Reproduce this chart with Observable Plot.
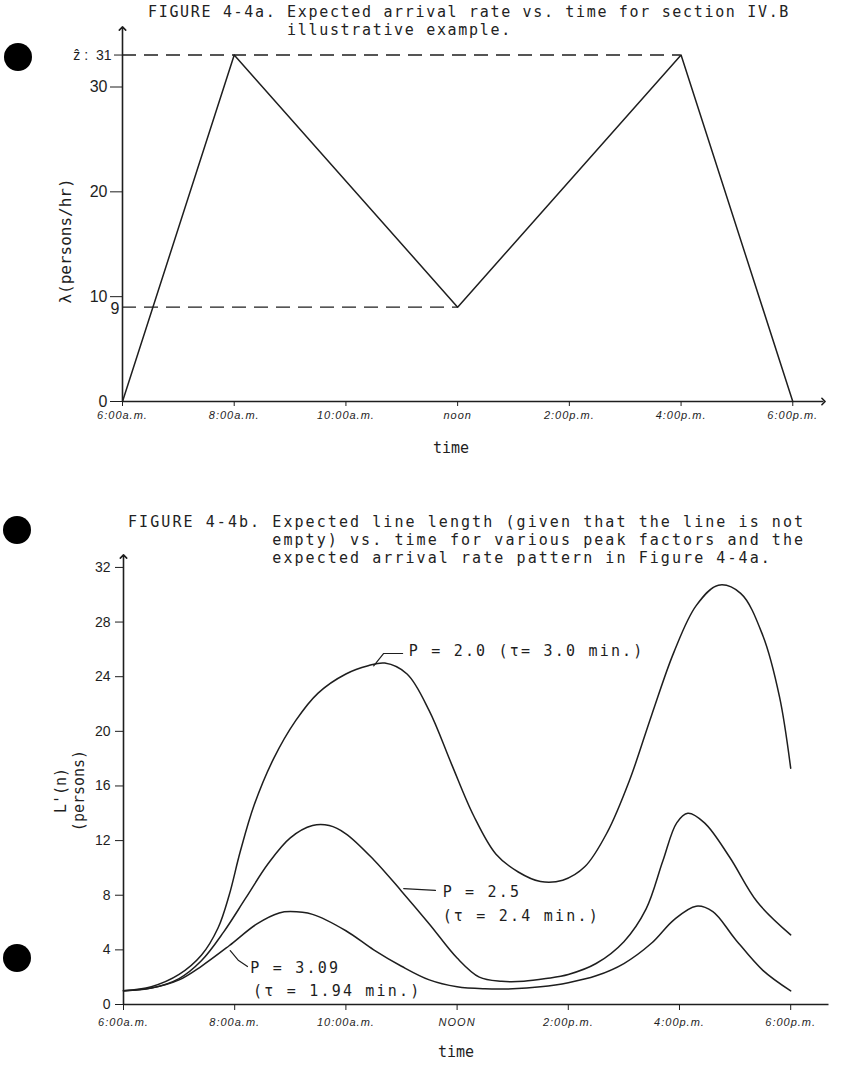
<!DOCTYPE html>
<html><head><meta charset="utf-8">
<script src="https://cdn.jsdelivr.net/npm/d3@7"></script>
<script src="https://cdn.jsdelivr.net/npm/@observablehq/plot@0.6"></script>
<style>
body{margin:0;background:#fff;width:845px;height:1070px;position:relative;overflow:hidden;}
.title{position:absolute;font-family:"DejaVu Sans Mono",monospace;font-size:15px;white-space:pre;color:#222;line-height:18px;}
.hole{position:absolute;width:28px;height:28px;border-radius:50%;background:#000;}
.chart{position:absolute;left:0;}
g[aria-label="x-axis tick label"] text{letter-spacing:1px;}
</style></head><body>
<div class="hole" style="left:4px;top:43px"></div>
<div class="hole" style="left:3px;top:516px"></div>
<div class="hole" style="left:3px;top:944px"></div>
<div class="title" style="left:148px;top:3px;letter-spacing:1.67px">FIGURE 4-4a. Expected arrival rate vs. time for section IV.B
             illustrative example.</div>
<div class="title" style="left:128px;top:513px;letter-spacing:2.07px">FIGURE 4-4b. Expected line length (given that the line is not
             empty) vs. time for various peak factors and the
             expected arrival rate pattern in Figure 4-4a.</div>
<div id="c1" class="chart" style="top:20px"></div>
<div id="c2" class="chart" style="top:545px"></div>
<script>
// ---------- data ----------
const timeTicks = [6, 8, 10, 12, 14, 16, 18];
const topTickLabels = ["6:00a.m.", "8:00a.m.", "10:00a.m.", "noon", "2:00p.m.", "4:00p.m.", "6:00p.m."];
const bottomTickLabels = ["6:00a.m.", "8:00a.m.", "10:00a.m.", "NOON", "2:00p.m.", "4:00p.m.", "6:00p.m."];

// Figure 4-4a: arrival rate (persons/hr)
const arrivalTime = [6, 8, 12, 16, 18];
const arrivalRate = [0, 31, 9, 31, 0];
const refLevels = [31, 9];
const refEnds = [16, 12];
const topYTicks = [0, 10, 20, 30];

// Figure 4-4b: expected line length curves
const p20Time = [6, 6.5, 7, 7.4, 7.7, 7.9, 8.1, 8.35, 8.7, 9.1, 9.5, 10, 10.4, 10.7, 11.1, 11.5, 11.9, 12.3, 12.7, 13.1, 13.5, 13.9, 14.3, 14.7, 15.1, 15.5, 15.9, 16.3, 16.7, 17.1, 17.5, 17.8, 18];
const p20Len  = [1.0, 1.3, 2.2, 3.6, 5.6, 8.0, 11.2, 14.6, 18.0, 20.8, 22.8, 24.2, 24.8, 25.0, 24.2, 21.5, 17.6, 13.8, 11.0, 9.7, 9.0, 9.1, 10.1, 12.6, 16.4, 21.2, 25.8, 29.2, 30.7, 30.1, 27.0, 22.5, 17.3];
const p25Time = [6, 6.5, 7, 7.4, 7.8, 8.2, 8.6, 9, 9.4, 9.7, 10, 10.5, 11, 11.5, 12, 12.4, 12.8, 13.2, 13.6, 14, 14.5, 15, 15.4, 15.7, 15.95, 16.15, 16.45, 16.9, 17.4, 18];
const p25Len  = [1.0, 1.2, 1.9, 3.2, 5.3, 7.8, 10.3, 12.2, 13.1, 13.1, 12.5, 10.6, 8.3, 5.9, 3.4, 2.0, 1.7, 1.7, 1.9, 2.2, 3.0, 4.6, 7.0, 10.5, 13.3, 14.0, 13.3, 10.8, 7.5, 5.1];
const p309Time = [6, 6.5, 7, 7.4, 7.9, 8.4, 8.8, 9, 9.4, 10, 10.5, 11, 11.5, 12, 12.5, 13, 13.5, 14, 14.5, 15, 15.5, 15.9, 16.3, 16.6, 17, 17.5, 18];
const p309Len  = [1.0, 1.2, 1.8, 2.8, 4.3, 5.9, 6.7, 6.8, 6.6, 5.4, 4.0, 2.8, 1.8, 1.3, 1.15, 1.15, 1.3, 1.6, 2.1, 3.0, 4.5, 6.2, 7.2, 6.8, 4.8, 2.5, 1.0];
const bottomYTicks = [0, 4, 8, 12, 16, 20, 24, 28, 32];

// curve labels (anchor in data coordinates) and leader lines
const labelText = ["P = 2.0 (τ= 3.0 min.)", "P = 2.5", "(τ = 2.4 min.)", "P = 3.09", "(τ = 1.94 min.)"];
const labelTime = [11.13, 11.74, 11.74, 8.28, 8.33];
const labelLen  = [25.84, 8.2, 6.5, 2.64, 0.95];
const leaderId   = [0, 0, 0, 1, 1, 2, 2, 2];
const leaderTime = [10.50, 10.68, 11.02, 11.04, 11.61, 7.92, 8.07, 8.23];
const leaderLen  = [24.8, 25.7, 25.7, 8.49, 8.35, 3.95, 3.22, 2.78];

// ---------- helpers ----------
const ink = "#1e1e1e";
const mono = "DejaVu Sans Mono";
const hand = "Liberation Sans";
const zip = (xs, ys, k) => xs.map((x, i) => ({t: x, v: ys[i], k}));

// ---------- Figure 4-4a ----------
// the hand-drawn original places 31 well above its linear position: stretch the scale above 30
const yBreak = 30, yStretch = 3.05, yAxisTop = 31.83;
const warp = v => v <= yBreak ? v : yBreak + (v - yBreak) * yStretch;
const xDomTop = [6, 18.55];
const arrival = zip(arrivalTime, arrivalRate);
const refs = refLevels.map((v, i) => ({v, end: refEnds[i]}));

const chartTop = Plot.plot({
  width: 845, height: 450,
  marginLeft: 122, marginRight: 22, marginTop: 8, marginBottom: 69,
  style: {fontFamily: hand, color: ink, background: "transparent", overflow: "visible"},
  x: {domain: xDomTop},
  y: {transform: warp, domain: [0, warp(yAxisTop)]},
  marks: [
    Plot.ruleY(refs, {y: "v", x1: () => xDomTop[0], x2: "end", stroke: ink, strokeWidth: 1.4, strokeDasharray: "14,8"}),
    Plot.link([0], {x1: () => xDomTop[0], x2: () => xDomTop[1], y1: () => 0, y2: () => 0, stroke: ink, strokeWidth: 1.6, markerEnd: "arrow"}),
    Plot.link([0], {x1: () => xDomTop[0], x2: () => xDomTop[0], y1: () => 0, y2: () => yAxisTop, stroke: ink, strokeWidth: 1.6, markerEnd: "arrow"}),
    Plot.line(arrival, {x: "t", y: "v", stroke: ink, strokeWidth: 1.5}),
    Plot.axisX(timeTicks, {tickSize: 5, tickPadding: 5, fontSize: 11, fontStyle: "italic", stroke: ink,
      tickFormat: d => topTickLabels[timeTicks.indexOf(d)], label: null}),
    Plot.axisY(topYTicks, {tickSize: 12, tickPadding: 3, fontSize: 16, stroke: ink, label: null}),
    Plot.axisY([31], {tickSize: 8, tickPadding: 3, fontSize: 14, stroke: ink, tickFormat: () => "ẑ :  31", label: null}),
    Plot.text([9], {x: () => xDomTop[0], y: d => d, text: () => "9", dx: -3, dy: 2, textAnchor: "end", fontSize: 16, fill: ink}),
    Plot.text(["λ(persons/hr)"], {frameAnchor: "left", textAnchor: "middle", rotate: -90, dx: -57, dy: 26, fontSize: 16, fontFamily: mono, fill: ink}),
    Plot.text(["time"], {frameAnchor: "bottom", lineAnchor: "middle", dx: -22, dy: 47, fontSize: 15, fontFamily: mono, fill: ink})
  ]
});
document.getElementById("c1").append(chartTop);

// ---------- Figure 4-4b ----------
const xDomBot = [6, 18.68];
const yDomBot = [0, 32.8];
const curves = [...zip(p20Time, p20Len, "P=2.0"), ...zip(p25Time, p25Len, "P=2.5"), ...zip(p309Time, p309Len, "P=3.09")];
const labels = labelText.map((s, i) => ({s, t: labelTime[i], v: labelLen[i]}));
const leaders = leaderTime.map((t, i) => ({t, v: leaderLen[i], k: leaderId[i]}));

const chartBot = Plot.plot({
  width: 845, height: 525,
  marginLeft: 123, marginRight: 17, marginTop: 11, marginBottom: 66,
  style: {fontFamily: hand, color: ink, background: "transparent", overflow: "visible"},
  x: {domain: xDomBot},
  y: {domain: yDomBot},
  marks: [
    Plot.link([0], {x1: () => xDomBot[0], x2: () => xDomBot[1], y1: () => 0, y2: () => 0, stroke: ink, strokeWidth: 1.6}),
    Plot.link([0], {x1: () => xDomBot[0], x2: () => xDomBot[0], y1: () => 0, y2: () => yDomBot[1], stroke: ink, strokeWidth: 1.6, markerEnd: "arrow"}),
    Plot.line(curves, {x: "t", y: "v", z: "k", curve: "catmull-rom", stroke: ink, strokeWidth: 1.5}),
    Plot.line(leaders, {x: "t", y: "v", z: "k", stroke: ink, strokeWidth: 1.2}),
    Plot.text(labels, {x: "t", y: "v", text: "s", textAnchor: "start", fontFamily: mono, fontSize: 15, fill: ink}),
    Plot.axisX(timeTicks, {tickSize: 6, tickPadding: 8, fontSize: 11, fontStyle: "italic", stroke: ink,
      tickFormat: d => bottomTickLabels[timeTicks.indexOf(d)], label: null}),
    Plot.axisY(bottomYTicks, {tickSize: 8, tickPadding: 5, fontSize: 14, stroke: ink, label: null}),
    Plot.text(["L'(n)\n(persons)"], {frameAnchor: "left", textAnchor: "middle", rotate: -90, dx: -54, dy: 10, fontSize: 15, lineHeight: 1.2, fontFamily: mono, fill: ink}),
    Plot.text(["time"], {frameAnchor: "bottom", lineAnchor: "middle", dx: -20, dy: 48, fontSize: 15, fontFamily: mono, fill: ink})
  ]
});
document.getElementById("c2").append(chartBot);
// typewriter-style spacing for the curve labels
d3.select(chartBot).selectAll("text")
  .filter(function () { return labelText.includes(this.textContent); })
  .style("letter-spacing", "2.2px");
</script>
</body></html>
